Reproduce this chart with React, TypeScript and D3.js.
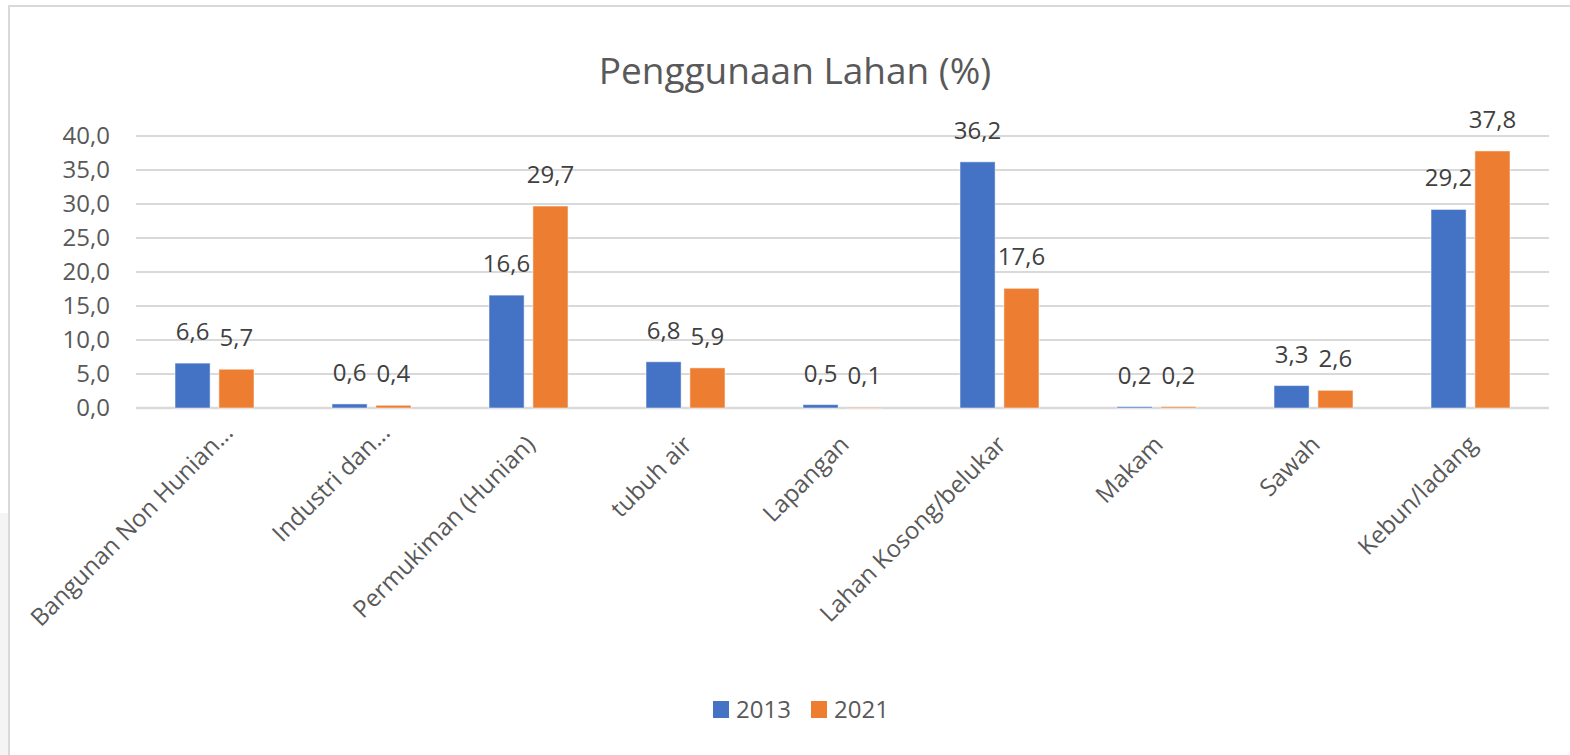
import React from 'react'
import * as d3 from 'd3'

const categories = [
  'Bangunan Non Hunian...',
  'Industri dan...',
  'Permukiman (Hunian)',
  'tubuh air',
  'Lapangan',
  'Lahan Kosong/belukar',
  'Makam',
  'Sawah',
  'Kebun/ladang'
]
const seriesNames = ['2013', '2021']
const values2013 = [6.6, 0.6, 16.6, 6.8, 0.5, 36.2, 0.2, 3.3, 29.2]
const values2021 = [5.7, 0.4, 29.7, 5.9, 0.1, 17.6, 0.2, 2.6, 37.8]
const yTicks = [0, 5, 10, 15, 20, 25, 30, 35, 40]
const colors = ['#4472C4', '#ED7D31']

const W = 1570
const H = 755
const margin = { left: 136, right: 21, top: 136, bottom: 347 }
const font = '"Open Sans", sans-serif'

const fmt = (v: number) => v.toFixed(1).replace('.', ',')

export default function App () {
  const x0 = d3.scaleBand<string>()
    .domain(categories)
    .range([margin.left, W - margin.right])
    .paddingInner(0.497)
    .paddingOuter(0.2485)
  const x1 = d3.scaleBand<string>()
    .domain(seriesNames)
    .range([0, x0.bandwidth()])
    .paddingInner(0.2)
  const y = d3.scaleLinear()
    .domain([0, 40])
    .range([H - margin.bottom, margin.top])

  const series = [values2013, values2021]

  return <div style={{ position: 'absolute', left: 0, top: 0 }}>
    <svg width={W} height={H} style={{ display: 'block', background: '#fff' }} fontFamily={font}>
      <rect x={0} y={513} width={8} height={H - 513} fill='#f4f4f4' />
      <line x1={9} y1={6} x2={9} y2={H} stroke='#d9d9d9' strokeWidth={2} />
      <line x1={8} y1={6} x2={W} y2={6} stroke='#d9d9d9' strokeWidth={2} />

      <text x={795} y={84} textAnchor='middle' fontSize={37} fill='#595959'>Penggunaan Lahan (%)</text>

      <g>
        {yTicks.map((t, i) => <g key={i}>
          <line x1={margin.left} x2={W - margin.right} y1={y(t)} y2={y(t)}
            stroke='#d9d9d9' strokeWidth={t === 0 ? 2.5 : 2} />
          <text x={110} y={y(t)} dy='0.35em' textAnchor='end' fontSize={24} fill='#595959'>{fmt(t)}</text>
        </g>)}
      </g>

      <g>
        {categories.map((c, i) => <g key={c} transform={`translate(${x0(c)},0)`}>
          {series.map((s, j) => {
            const bx = x1(seriesNames[j]) as number
            const top = y(s[i])
            return <g key={j}>
              <rect x={bx} y={top} width={x1.bandwidth()} height={y(0) - top}
                fill={colors[j]} stroke='#fff' strokeOpacity={0.5} strokeWidth={1} />
              <text x={bx + x1.bandwidth() / 2} y={top - 23} textAnchor='middle'
                fontSize={24} fill='#404040'>{fmt(s[i])}</text>
            </g>
          })}
        </g>)}
      </g>

      <g>
        {categories.map(c => {
          const cx = (x0(c) as number) + x0.bandwidth() / 2
          const extra = c.endsWith('...') ? 17 : 0
          return <text key={c} transform={`translate(${cx + 8},446) rotate(-45)`}
            dx={extra} textAnchor='end' fontSize={24} fill='#595959'>{c}</text>
        })}
      </g>

      <g>
        {seriesNames.map((n, j) => <g key={n} transform={`translate(${713 + j * 98},0)`}>
          <rect x={0} y={701} width={16} height={17} fill={colors[j]} />
          <text x={23} y={718} fontSize={24} fill='#595959'>{n}</text>
        </g>)}
      </g>
    </svg>
  </div>
}
